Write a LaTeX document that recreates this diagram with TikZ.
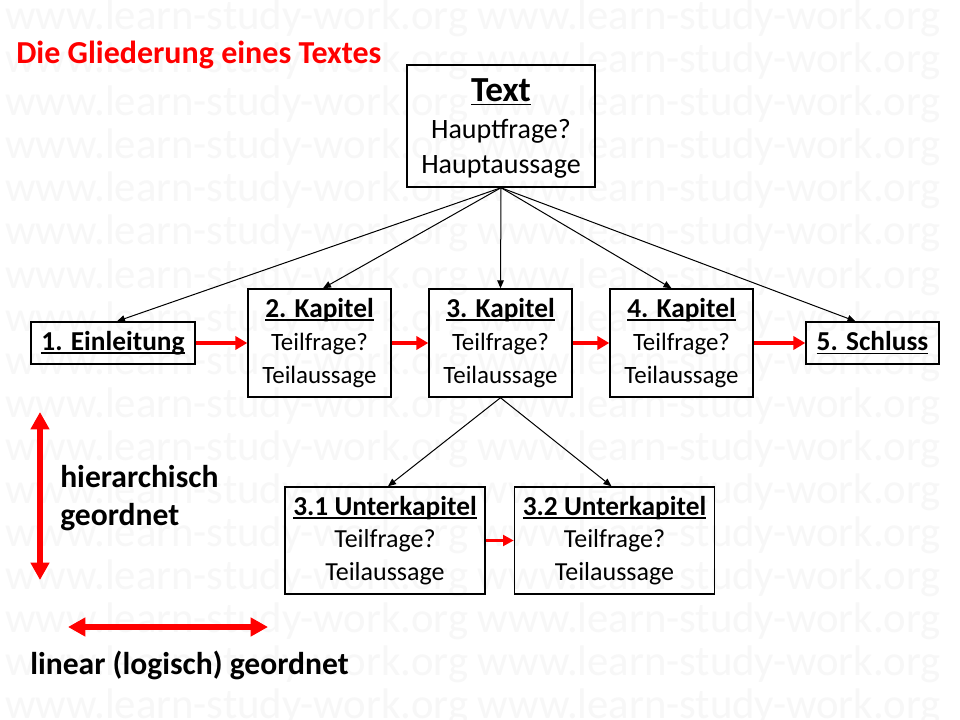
\documentclass[tikz,border=0pt]{standalone}
\usepackage{fontspec}
\setmainfont{Carlito}
\usetikzlibrary{arrows.meta,calc}
\definecolor{pptred}{RGB}{255,0,0}
\newcommand{\myul}[1]{\setbox0=\hbox{#1}\leavevmode\rlap{\rule[-2.6pt]{\wd0}{1.3pt}}\box0}
\newcommand{\hd}[1]{{\fontsize{20.5}{25}\selectfont\myul{\textbf{#1}}}}
\tikzset{
  wm/.style={text=black!3, font=\fontsize{32}{32}\selectfont, inner sep=0pt, anchor=base west},
  box/.style={draw, line width=1.1pt, inner sep=0pt, align=center, font=\fontsize{18.7}{25}\selectfont},
  blk/.style={-{Triangle[length=6pt,width=5pt]}, line width=0.75pt},
  redarr/.style={pptred, line width=3pt, -{Triangle[length=9pt,width=10pt]}},
  redsmall/.style={pptred, line width=2.3pt, -{Triangle[length=8pt,width=8pt]}},
  bigarr/.style={pptred, line width=3.8pt, {Triangle[length=13pt,width=13.5pt]}-{Triangle[length=13pt,width=13.5pt]}},
  lbl/.style={inner sep=0pt, anchor=base west, font=\fontsize{23.7}{28}\selectfont\bfseries}
}
\begin{document}
\begin{tikzpicture}[x=0.75pt,y=-0.75pt]
\useasboundingbox (0,0) rectangle (960,720);
\clip (0,0) rectangle (960,720);
\fill[white] (0,0) rectangle (960,720);
% watermark
\foreach \k in {0,...,16}{
  \node[wm] (wm\k) at (5,{30+43*\k}) {www.learn-study-work.org www.learn-study-work.org};
}
% title
\node[inner sep=0pt, anchor=base west, text=pptred, font=\fontsize{24}{28}\selectfont\bfseries] (title) at (16,64) {Die Gliederung eines Textes};
% boxes
\node[box, minimum width=141pt, minimum height=91.5pt, font=\fontsize{21}{26.5}\selectfont] (text) at (501,126)
  {\rule{0pt}{21.5pt}{\fontsize{26.4}{26.5}\selectfont\myul{\textbf{Text}}}\\[1pt]Hauptfrage?\\Hauptaussage};
\node[box, minimum width=123pt, minimum height=31.5pt] (n1) at (113,343) {\hd{1. Einleitung}};
\node[box, minimum width=107.25pt, minimum height=81pt] (n2) at (319.5,343) {\hd{2. Kapitel}\\Teilfrage?\\Teilaussage};
\node[box, minimum width=107.25pt, minimum height=81pt] (n3) at (500.5,343) {\hd{3. Kapitel}\\Teilfrage?\\Teilaussage};
\node[box, minimum width=107.25pt, minimum height=81pt] (n4) at (681.5,343) {\hd{4. Kapitel}\\Teilfrage?\\Teilaussage};
\node[box, minimum width=99.75pt, minimum height=31.5pt] (n5) at (872.5,343) {\hd{5. Schluss}};
\node[box, minimum width=150pt, minimum height=80.25pt, font=\fontsize{19.5}{24.5}\selectfont] (s1) at (385,540.5) {\hd{3.1 Unterkapitel}\\Teilfrage?\\Teilaussage};
\node[box, minimum width=150pt, minimum height=80.25pt, font=\fontsize{19.5}{24.5}\selectfont] (s2) at (614.5,540.5) {\hd{3.2 Unterkapitel}\\Teilfrage?\\Teilaussage};
% black hierarchy arrows
\draw[blk] (text.south) -- ($(n1.north)+(4,0)$);
\draw[blk] (text.south) -- ($(n2.north)+(3.5,0)$);
\draw[blk] (text.south) -- (n3.north);
\draw[blk] (text.south) -- ($(n4.north)+(-10,0)$);
\draw[blk] (text.south) -- ($(n5.north)+(-17,0)$);
\draw[blk] (n3.south) -- ($(s1.north)+(3,0)$);
\draw[blk] (n3.south) -- ($(s2.north)+(-3,0)$);
% red linear arrows
\draw[redarr] (n1.east) -- (n2.west);
\draw[redarr] (n2.east) -- (n3.west);
\draw[redarr] (n3.east) -- (n4.west);
\draw[redarr] (n4.east) -- (n5.west);
\draw[redsmall] (s1.east) -- (s2.west);
% legend
\coordinate (va) at (40,412);
\coordinate (vb) at (40,580);
\draw[bigarr] (va) -- (vb);
\coordinate (ha) at (68,627);
\coordinate (hb) at (268,627);
\draw[bigarr] (ha) -- (hb);
\node[lbl] (hier1) at (60,487) {hierarchisch};
\node[lbl] (hier2) at (60,525) {geordnet};
\node[lbl] (lin) at (30,674) {linear (logisch) geordnet};
\end{tikzpicture}
\end{document}
